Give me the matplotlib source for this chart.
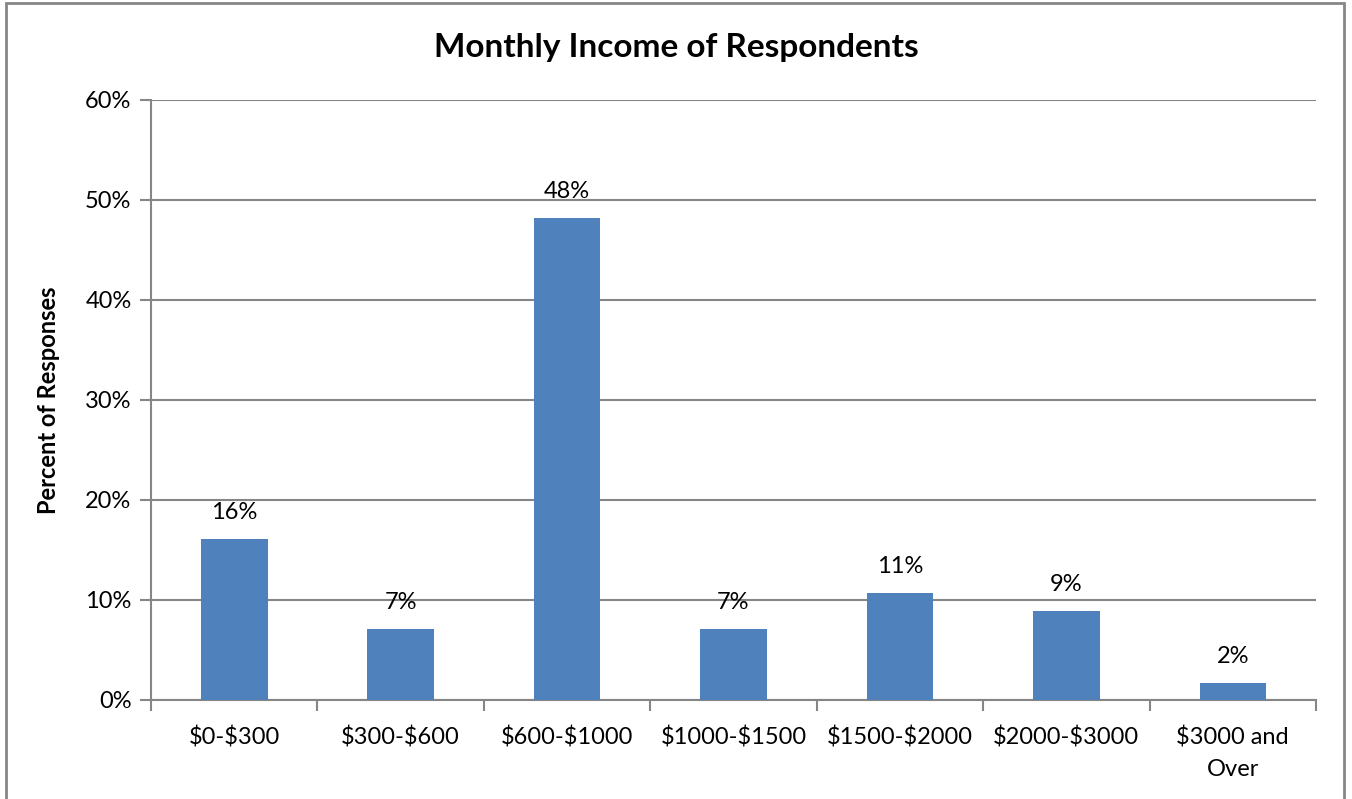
import matplotlib.pyplot as plt
from matplotlib.patches import Rectangle

# Data
categories = ['\\$0-\\$300', '\\$300-\\$600', '\\$600-\\$1000', '\\$1000-\\$1500',
              '\\$1500-\\$2000', '\\$2000-\\$3000', '\\$3000 and\nOver']
percents = [16.1, 7.1, 48.2, 7.1, 10.7, 8.9, 1.7]
labels = ['16%', '7%', '48%', '7%', '11%', '9%', '2%']
yticks = [0, 10, 20, 30, 40, 50, 60]

plt.rcParams['font.family'] = ['Lato', 'DejaVu Sans']
grey = '#868686'

fig = plt.figure(figsize=(13.52, 7.99), dpi=100)
ax = fig.add_axes([151 / 1352, 1 - 700 / 799, 1165 / 1352, 600 / 799])

x = list(range(len(categories)))
ax.bar(x, percents, width=0.4, color='#4F81BD', zorder=3)

for xi, v, lab in zip(x, percents, labels):
    ax.annotate(lab, (xi, v), xytext=(0, 19), textcoords='offset points',
                ha='center', va='center', fontsize=17)

ax.set_xlim(-0.5, len(categories) - 0.5)
ax.set_ylim(0, 60)
ax.set_yticks(yticks)
ax.set_yticklabels([f'{t}%' for t in yticks], fontsize=17)
ax.set_xticks(x)
ax.set_xticklabels(categories, fontsize=17, linespacing=1.65)
ax.set_xticks([i - 0.5 for i in range(len(categories) + 1)], minor=True)
ax.tick_params(axis='x', which='major', length=0, pad=19)
ax.tick_params(axis='x', which='minor', length=8, width=1.5, color=grey)
ax.tick_params(axis='y', length=8, width=1.5, color=grey, pad=6)

ax.grid(axis='y', color=grey, linewidth=1.5, zorder=0)
ax.set_axisbelow(True)
for s in ['top', 'right']:
    ax.spines[s].set_visible(False)
for s in ['left', 'bottom']:
    ax.spines[s].set_color(grey)
    ax.spines[s].set_linewidth(1.5)

fig.text(0.5, 1 - 47 / 799, 'Monthly Income of Respondents', fontsize=24,
         fontweight='bold', ha='center', va='center')
ax.set_ylabel('Percent of Responses', fontsize=17, fontweight='bold', labelpad=18)

# Chart border
fig.patches.append(Rectangle((6 / 1352, -0.1), 1338 / 1352, 1.1 - 3 / 799,
                             transform=fig.transFigure, fill=False,
                             edgecolor=grey, linewidth=2))

fig.savefig('out.png', dpi=100)
